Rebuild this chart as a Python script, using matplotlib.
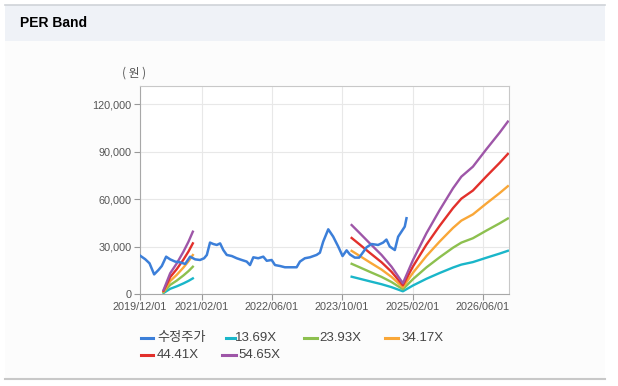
import numpy as np
import pandas as pd
import matplotlib
matplotlib.use("Agg")
import matplotlib.pyplot as plt
import matplotlib.dates as mdates
from matplotlib.lines import Line2D
from matplotlib.patches import Rectangle

plt.rcParams['font.family'] = ['Liberation Sans', 'Noto Sans CJK KR', 'DejaVu Sans']

# 수정주가 (원)
price_dates = [
    "2019-12-01", "2020-01-06", "2020-02-05", "2020-03-08", "2020-04-07", "2020-04-30",
    "2020-05-30", "2020-06-27", "2020-07-31", "2020-09-04", "2020-10-09", "2020-11-12",
    "2020-12-17", "2021-01-20", "2021-02-17", "2021-03-08", "2021-03-30", "2021-04-22",
    "2021-05-16", "2021-06-08", "2021-06-30", "2021-07-24", "2021-08-28", "2021-10-01",
    "2021-11-05", "2021-12-09", "2022-01-01", "2022-01-24", "2022-02-27", "2022-04-03",
    "2022-04-27", "2022-05-31", "2022-06-23", "2022-07-28", "2022-08-31", "2022-10-05",
    "2022-11-20", "2022-12-13", "2023-01-16", "2023-02-20", "2023-04-07", "2023-04-30",
    "2023-05-23", "2023-06-27", "2023-07-31", "2023-09-04", "2023-10-04", "2023-11-01",
    "2023-11-24", "2023-12-28", "2024-01-27", "2024-02-24", "2024-03-18", "2024-04-22",
    "2024-06-06", "2024-07-11", "2024-08-03", "2024-08-26", "2024-09-30", "2024-10-23",
    "2024-11-15", "2024-12-08", "2024-12-20",
]
price = [
    24300, 22000, 19400, 12400, 15200, 17700,
    23600, 21900, 20500, 20000, 19000, 23600,
    21900, 21500, 22600, 24700, 32500, 31600,
    31000, 32000, 27800, 24700, 24000, 22600,
    21500, 20500, 18300, 23200, 22600, 23600,
    21000, 21500, 18300, 17700, 16900, 16900,
    16900, 20500, 22600, 23200, 24700, 26100,
    33100, 40900, 36300, 30000, 24000, 27600,
    25000, 23000, 23000, 26500, 29500, 31600,
    31000, 32500, 34400, 30000, 27800, 36200,
    39400, 42600, 47900,
]

# PER band lines (two stretches, gap between them)
band_dates = [
    "2020-05-12", "2020-06-27", "2020-08-12", "2020-09-27", "2020-11-01", "2020-12-01",
    "2022-06-01",
    "2023-12-06", "2024-02-01", "2024-04-10", "2024-06-30", "2024-09-07", "2024-11-25",
    "2025-02-03", "2025-05-07", "2025-08-07", "2025-11-07", "2026-01-04", "2026-03-25",
    "2026-06-26", "2026-09-26", "2026-11-22",
]
nan = np.nan
band_1369 = [630, 3280, 4860, 6710, 8290, 9870, nan,
             10920, 9620, 8020, 6190, 4330, 1700,
             5390, 9620, 13300, 16730, 18590, 20170, 22920, 25550, 27300]
band_2393 = [1090, 5740, 8500, 11740, 14490, 17250, nan,
             19090, 16820, 14010, 10820, 7580, 2980,
             9410, 16820, 23250, 29250, 32490, 35250, 40070, 44670, 47730]
band_3417 = [1560, 8190, 12130, 16760, 20700, 24640, nan,
             27260, 24010, 20010, 15450, 10820, 4250,
             13440, 24010, 33200, 41770, 46400, 50340, 57210, 63780, 68160]
band_4441 = [2030, 10650, 15760, 21780, 26900, 32020, nan,
             35430, 31200, 26000, 20070, 14060, 5530,
             17470, 31200, 43150, 54280, 60290, 65410, 74350, 82890, 88570]
band_5465 = [2500, 13100, 19400, 26800, 33100, 39400, nan,
             43600, 38400, 32000, 24700, 17300, 6800,
             21500, 38400, 53100, 66800, 74200, 80500, 91500, 102000, 109000]

labels = ["수정주가", "13.69X", "23.93X", "34.17X", "44.41X", "54.65X"]
colors = ["#3c7fd9", "#1ab6c9", "#8dc04f", "#f9a738", "#e2302b", "#9e56a8"]
x_ticks = ["2019-12-01", "2021-02-01", "2022-06-01", "2023-10-01", "2025-02-01", "2026-06-01"]
y_ticks = [0, 30000, 60000, 90000, 120000]

W, H = 618, 386
fig = plt.figure(figsize=(W / 100, H / 100), dpi=100)
fig.patch.set_facecolor("white")

def fx(px):
    return px / W

def fy(py):
    return 1 - py / H

# panel + header
fig.add_artist(Rectangle((fx(5), fy(379)), fx(600), 374 / H, transform=fig.transFigure,
                         facecolor="#fcfcfc", edgecolor="none", zorder=0))
fig.add_artist(Rectangle((fx(5), fy(41)), fx(600), 36 / H, transform=fig.transFigure,
                         facecolor="#eff2f7", edgecolor="none", zorder=0))
fig.add_artist(Line2D([fx(5), fx(605)], [fy(5), fy(5)], transform=fig.transFigure,
                      color="#cfd3d8", lw=1.2))
fig.add_artist(Line2D([fx(5), fx(605)], [fy(379), fy(379)], transform=fig.transFigure,
                      color="#c8c8c8", lw=1.5))
fig.text(fx(20), fy(23), "PER Band", fontsize=10, fontweight="bold",
         ha="left", va="center", color="black")

ax = fig.add_axes([fx(140), fy(294), fx(369), 208 / H])
ax.set_facecolor("white")

pd_dates = pd.to_datetime(price_dates)
bd = pd.to_datetime(band_dates)
ax.plot(pd_dates, price, color=colors[0], lw=1.8, zorder=5)
for vals, c in zip([band_1369, band_2393, band_3417, band_4441, band_5465], colors[1:]):
    ax.plot(bd, vals, color=c, lw=1.7, zorder=4)

ax.set_xlim(pd.Timestamp("2019-12-01"), pd.Timestamp("2026-11-30"))
ax.set_ylim(0, 131500)
ax.set_xticks(pd.to_datetime(x_ticks))
ax.xaxis.set_major_formatter(mdates.DateFormatter("%Y/%m/%d"))
ax.set_yticks(y_ticks)
ax.set_yticklabels([f"{v:,}" for v in y_ticks])
ax.tick_params(axis="both", labelsize=7.8, colors="#999999", labelcolor="#555555",
               length=4, width=0.8, pad=2)
ax.grid(True, color="#e8e8e8", lw=0.8)
ax.set_axisbelow(True)
for side in ["top", "right"]:
    ax.spines[side].set_color("#c8c8c8")
for side in ["left", "bottom"]:
    ax.spines[side].set_color("#a8a8a8")

fig.text(fx(134), fy(73), "( 원 )", fontsize=8.5, ha="center", va="center", color="#555555",
         family=["Noto Sans CJK KR", "DejaVu Sans"])

# legend, drawn by hand
legend_pos = [(141, 153, 157, 338), (226, 235, 235, 338), (304, 317, 319, 338),
              (385, 398, 401, 338), (141, 153, 157, 355), (222, 236, 238, 355)]
for (x0, x1, tx, y), lab, c in zip(legend_pos, labels, colors):
    fig.add_artist(Line2D([fx(x0), fx(x1)], [fy(y), fy(y)], transform=fig.transFigure,
                          color=c, lw=2.2))
    fig.text(fx(tx), fy(y), lab, fontsize=9.5, ha="left", va="center", color="#444444")

fig.savefig("out.png", dpi=100)
